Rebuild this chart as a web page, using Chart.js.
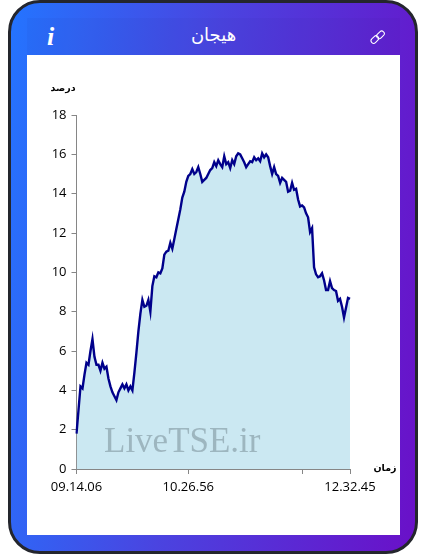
<!DOCTYPE html>
<html>
<head>
<meta charset="utf-8">
<script src="https://cdn.jsdelivr.net/npm/chart.js@4"></script>
<style>
html, body { margin: 0; padding: 0; background: #fff; width: 427px; height: 554px; overflow: hidden; }
.frame {
    position: absolute; left: 8px; top: 0; width: 404px; height: 548px;
    border: 3px solid #24262d; border-radius: 32px;
    background: linear-gradient(97deg, #2474ff 0%, #4a44e0 45%, #6a10c8 100%);
}
.header { position: absolute; left: 27px; top: 18px; width: 373px; height: 37px; background: rgba(30, 30, 90, 0.04); }
.panel { position: absolute; left: 27px; top: 55px; width: 373px; height: 480px; background: #fff; }
.title { position: absolute; left: 0; top: 24px; width: 427px; text-align: center; color: #fff; font: 18px "DejaVu Sans", sans-serif; direction: rtl; }
.info { position: absolute; left: 47px; top: 22px; color: #fff; font: italic bold 26px "Liberation Serif", serif; }
.link { position: absolute; left: 369px; top: 29px; }
canvas { position: absolute; left: 0; top: 0; }
</style>
</head>
<body>
<div class="frame"></div>
<div class="header"></div>
<div class="panel"></div>
<div class="title">هیجان</div>
<div class="info">i</div>
<svg class="link" width="17" height="17" viewBox="0 0 18 18" fill="none" stroke="#fff" stroke-width="1.1">
    <rect x="1.5" y="8.5" width="9" height="5.5" rx="2.7" transform="rotate(-45 6 11)"/>
    <rect x="7.5" y="3.5" width="9" height="5.5" rx="2.7" transform="rotate(-45 12 6)"/>
</svg>
<canvas id="myChart" width="427" height="554"></canvas>
<script>
const yTicks = [0, 2, 4, 6, 8, 10, 12, 14, 16, 18];
const tickIndexes = { 0: '09.14.06', 56: '10.26.56', 113: '', 137: '12.32.45' };
const values = [
    1.8, 3.0, 4.2, 4.1, 4.8, 5.4, 5.3, 6.0, 6.6, 5.7,
    5.3, 5.3, 5.0, 5.4, 5.1, 5.2, 4.6, 4.2, 3.9, 3.7,
    3.5, 3.9, 4.1, 4.3, 4.1, 4.3, 4.0, 4.2, 4.0, 4.9,
    5.9, 7.0, 7.9, 8.6, 8.25, 8.3, 8.6, 8.0, 9.3, 9.8,
    9.75, 10.0, 9.95, 10.2, 10.9, 11.05, 11.1, 11.5, 11.2, 11.7,
    12.2, 12.7, 13.2, 13.8, 14.1, 14.6, 14.9, 15.0, 15.25, 15.0,
    15.1, 15.35, 15.0, 14.6, 14.7, 14.8, 15.0, 15.2, 15.3, 15.6,
    15.4, 15.7, 15.5, 15.35, 15.9, 15.5, 15.6, 15.3, 15.7, 15.5,
    15.9, 16.05, 16.0, 15.8, 15.6, 15.35, 15.5, 15.65, 15.6, 15.85,
    15.7, 15.8, 15.65, 16.05, 15.85, 16.0, 15.85, 15.4, 15.0, 15.35,
    15.0, 14.9, 14.55, 14.8, 14.7, 14.6, 14.1, 14.15, 14.55, 14.2,
    14.25, 13.7, 13.35, 13.4, 13.3, 13.0, 12.8, 12.05, 12.25, 10.25,
    9.9, 9.75, 9.8, 9.95, 9.6, 9.1, 9.1, 9.55, 9.2, 9.1,
    9.05, 8.55, 8.65, 8.25, 7.7, 8.2, 8.7, 8.65
];
const categories = values.map((_, i) => i);

// axis captions and the site mark, drawn on top of the plot
const overlay = {
    id: 'overlay',
    afterDatasetsDraw(chart) {
        const { ctx, chartArea } = chart;
        ctx.save();
        ctx.fillStyle = 'rgba(120, 140, 150, 0.55)';
        ctx.font = '35px "Liberation Serif", serif';
        ctx.textBaseline = 'alphabetic';
        ctx.fillText('LiveTSE.ir', chartArea.left + 27.5, chartArea.bottom - 17);
        ctx.fillStyle = '#000';
        ctx.font = 'bold 9.5px "DejaVu Sans", sans-serif';
        ctx.textAlign = 'center';
        ctx.fillText('درصد', 63, 91);
        ctx.fillText('زمان', 385, 471);
        ctx.restore();
    }
};

new Chart(document.getElementById('myChart').getContext('2d'), {
    type: 'line',
    data: {
        labels: categories,
        datasets: [{
            data: values,
            borderColor: '#00008b',
            borderWidth: 2.4,
            backgroundColor: '#cbe8f2',
            fill: true,
            pointRadius: 0,
            tension: 0
        }]
    },
    options: {
        responsive: false,
        animation: false,
        layout: { padding: { left: 0, top: 115, right: 77, bottom: 0 }, autoPadding: false },
        plugins: { legend: { display: false }, tooltip: { enabled: false } },
        scales: {
            x: {
                offset: false,
                afterFit: scale => { scale.height = 85; },
                afterBuildTicks: scale => {
                    scale.ticks = Object.keys(tickIndexes).map(i => ({ value: +i }));
                },
                border: { color: '#868686' },
                grid: { drawOnChartArea: false, color: '#868686', tickLength: 5 },
                ticks: {
                    autoSkip: false,
                    maxRotation: 0,
                    padding: 5,
                    color: '#000',
                    font: { family: '"Open Sans", sans-serif', size: 13 },
                    callback: value => tickIndexes[value]
                }
            },
            y: {
                min: 0,
                max: 18,
                afterFit: scale => { scale.width = 76.5; },
                afterBuildTicks: scale => { scale.ticks = yTicks.map(v => ({ value: v })); },
                border: { color: '#868686' },
                grid: { drawOnChartArea: false, color: '#868686', tickLength: 5 },
                ticks: {
                    padding: 5,
                    color: '#000',
                    font: { family: '"Open Sans", sans-serif', size: 13 }
                }
            }
        }
    },
    plugins: [overlay]
});
</script>
</body>
</html>
